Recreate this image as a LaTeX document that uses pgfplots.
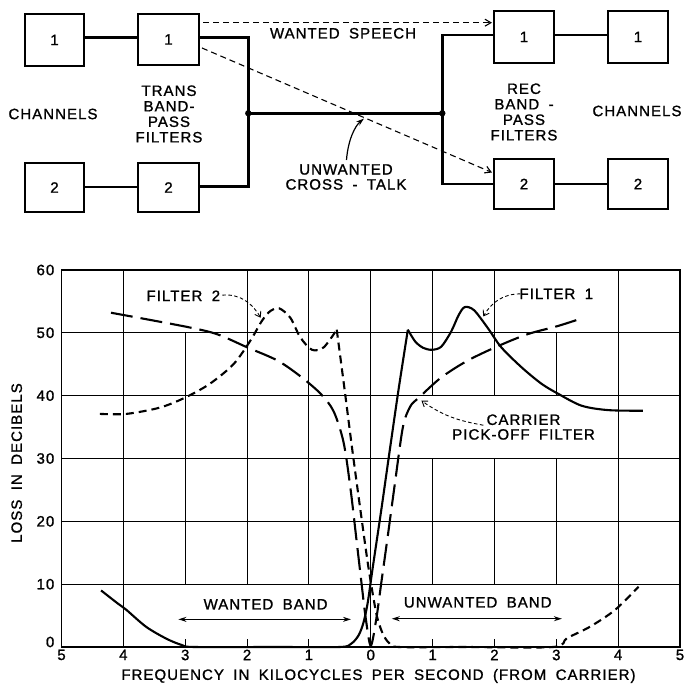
\documentclass[border=0pt]{standalone}
\usepackage{fontspec}
\setmainfont{Liberation Sans}[LetterSpace=7, WordSpace=1.8, FakeBold=1.2]
\usepackage{pgfplots}
\pgfplotsset{compat=1.18}
\usetikzlibrary{arrows.meta}
\begin{document}
\fontsize{15bp}{17bp}\selectfont
\begin{tikzpicture}
\useasboundingbox (0,0) rectangle (684bp,684bp);
% block diagram, picture pixels, y down
\begin{scope}[x=1bp, y=-1bp, yshift=684bp]
  \tikzset{box/.style={line width=1.4bp}, wire/.style={line width=2.5bp},
    talk/.style={line width=1.1bp, dash pattern=on 6bp off 4bp, -{Straight Barb[length=6bp,width=7bp]}}}
  \draw[box] (25,14) rectangle (84,66);   \node at (54.5,40) {1};
  \draw[box] (138,14) rectangle (199,65); \node at (168.5,39.5) {1};
  \draw[box] (25,163) rectangle (84,212); \node at (54.5,187.5) {2};
  \draw[box] (138,163) rectangle (199,212); \node at (168.5,187.5) {2};
  \draw[box] (494,11) rectangle (554,63); \node at (524,37) {1};
  \draw[box] (608,11) rectangle (668,63); \node at (638,37) {1};
  \draw[box] (494,159) rectangle (554,209); \node at (524,184) {2};
  \draw[box] (608,159) rectangle (668,209); \node at (638,184) {2};
  \draw[wire] (84,37.7) -- (138,37.7);
  \draw[wire] (84,187) -- (138,187);
  \draw[wire] (199,37.7) -- (248.3,37.7) -- (248.3,186.5) -- (199,186.5);
  \draw[wire] (248.3,113.3) -- (442.3,113.3);
  \draw[wire] (494,35) -- (442.3,35) -- (442.3,184) -- (494,184);
  \draw[wire] (554,35) -- (608,35);
  \draw[wire] (554,184) -- (608,184);
  \fill (248.3,113.3) circle (3.2bp);
  \fill (442.3,113.3) circle (3.2bp);
  \draw[talk] (203,22.7) -- (492,22.7);
  \draw[talk] (202,48) -- (492,172.5);
  \draw[line width=1.2bp, -{Stealth[length=8bp,width=5bp]}] (346.5,160) .. controls (348,140) and (355,126) .. (364,118.5);
  \node at (53,114) {CHANNELS};
  \node[align=center, font=\fontsize{15bp}{15.5bp}\selectfont] at (169,114) {TRANS\\BAND-\\PASS\\FILTERS};
  \node at (343,33.3) {WANTED SPEECH};
  \node[align=center, font=\fontsize{15bp}{15bp}\selectfont] at (346,177) {UNWANTED\\CROSS - TALK};
  \node[align=center, font=\fontsize{15bp}{15.5bp}\selectfont] at (524,112) {REC\\BAND -\\PASS\\FILTERS};
  \node at (637,111) {CHANNELS};
\end{scope}

\begin{axis}[
  at={(61.5bp,37bp)}, anchor=south west,
  scale only axis, width=618.5bp, height=377bp,
  xmin=-5, xmax=5, ymin=0, ymax=60,
  xtick={-5,-4,-3,-2,-1,0,1,2,3,4,5},
  xticklabels={5,4,3,2,1,0,1,2,3,4,5},
  ytick={10,20,30,40,50,60},
  extra y ticks={0},
  extra y tick style={yticklabel style={yshift=5bp}},
  major tick length=0pt,
  axis line style={line width=1.6bp},
  xticklabel style={yshift=2.5bp},
  yticklabel style={xshift=-2bp},
  /pgf/number format/assume math mode=true,
  xlabel={FREQUENCY IN KILOCYCLES PER SECOND (FROM CARRIER)},
  ylabel={LOSS IN DECIBELS},
  xlabel style={at={(axis description cs:0.5125,0)}, anchor=center, yshift=-29bp},
  ylabel style={at={(axis description cs:-0.0724,0.488)}, anchor=center},
  clip=false,
]
% grid
\tikzset{gl/.style={line width=1.1bp}}
\pgfplotsinvokeforeach{10,20,30,40,50}{\draw[gl] (axis cs:-5,#1) -- (axis cs:5,#1);}
\pgfplotsinvokeforeach{-4,0,4}{\draw[gl] (axis cs:#1,0) -- (axis cs:#1,60);}
\pgfplotsinvokeforeach{-3,-2,-1,1,2,3}{\draw[gl] (axis cs:#1,0) -- (axis cs:#1,1.3);}
\draw[gl] (axis cs:-3,10) -- (axis cs:-3,50);
\pgfplotsinvokeforeach{-2,-1}{\draw[gl] (axis cs:#1,10) -- (axis cs:#1,60);}
\pgfplotsinvokeforeach{1,2,3}{\draw[gl] (axis cs:#1,10) -- (axis cs:#1,30);}
\pgfplotsinvokeforeach{1,2}{\draw[gl] (axis cs:#1,40) -- (axis cs:#1,60);}
\draw[gl] (axis cs:3,40) -- (axis cs:3,50);

% filter 1 (solid)
\addplot[black, line width=2.1bp, smooth, tension=0.5] coordinates {
(-4.36,9.0) (-4.1,7.0) (-3.95,5.9) (-3.63,3.2) (-3.3,1.3) (-3.05,0.3) (-2.85,0)
(-1.5,0) (-0.5,0) (-0.32,0.5) (-0.2,1.8) (-0.12,3.8) (-0.05,7.0) (0.03,12.5)
(0.17,21.8) (0.3,30.8) (0.45,41) (0.6,50.5)};
\addplot[black, line width=2.1bp, smooth, tension=0.5] coordinates {
(0.6,50.5) (0.72,48.6) (0.85,47.6) (0.99,47.3) (1.14,47.8) (1.3,50.2) (1.42,52.8)
(1.52,54.1) (1.67,53.6) (1.89,50.8) (2.11,47.7) (2.44,44.5) (2.76,41.9) (3.03,40.3)
(3.41,38.4) (3.84,37.7) (4.4,37.6)};

% filter 2 (short dashes)
\addplot[black, line width=2.1bp, smooth, tension=0.5, dash pattern=on 8bp off 5bp] coordinates {
(-4.38,37.1) (-3.95,37.1) (-3.41,38.1) (-3.0,39.7) (-2.6,41.9) (-2.22,45.0) (-1.95,48.7)
(-1.76,51.9) (-1.62,53.5) (-1.48,53.9) (-1.3,52.4) (-1.14,49.3) (-0.95,47.3) (-0.76,47.7)
(-0.55,50.5)};
\addplot[black, line width=2.1bp, smooth, tension=0.5, dash pattern=on 8bp off 5bp] coordinates {
(-0.55,50.5) (-0.43,41.5) (-0.3,31.5) (-0.17,22) (-0.05,13.5) (0.04,8) (0.11,4.5)
(0.2,2) (0.3,0.6) (0.45,0) (1.5,0) (2.95,0) (3.17,1.4) (3.54,3.2) (3.95,5.9) (4.33,9.6)};

% carrier pick-off filter (long dashes)
\addplot[black, line width=2.1bp, smooth, tension=0.5, dash pattern=on 22bp off 8bp] coordinates {
(-4.2,53.2) (-3.0,51.0) (-2.49,49.8) (-2.0,47.7) (-1.51,45.6) (-1.14,43.1) (-0.81,40.3)
(-0.6,37.5) (-0.44,32.6) (-0.33,25.4) (-0.23,17) (-0.15,10.2) (-0.08,4.5) (0,0.2)
(0.09,4.5) (0.17,10.2) (0.28,18) (0.39,26) (0.52,35) (0.64,38.3) (0.78,39.7) (1.14,42.9)
(1.57,45.6) (2.06,47.9) (2.54,49.8) (3.03,51.1) (3.44,52.4)};

% annotations
\tikzset{note/.style={line width=0.9bp, dash pattern=on 3.5bp off 2.5bp, -{Straight Barb[length=5bp,width=7bp]}}}
\node at (axis cs:-3.03,55.9) {FILTER 2};
\draw[note] (axis cs:-2.4,56) to[out=5, in=120] (axis cs:-1.78,52.4);
\node at (axis cs:3.0,56.2) {FILTER 1};
\draw[note] (axis cs:2.42,56.2) to[out=180, in=60] (axis cs:1.82,52.6);
\node[align=center, font=\fontsize{15bp}{14.7bp}\selectfont] at (axis cs:2.47,35.0) {CARRIER\\PICK-OFF FILTER};
\draw[note] (axis cs:1.82,35.3) to[out=170, in=-35] (axis cs:0.82,39.2);
\draw[line width=1.1bp, {Stealth[length=8bp,width=5bp]}-{Stealth[length=8bp,width=5bp]}] (axis cs:-3.11,4.4) -- (axis cs:-0.32,4.4);
\node at (axis cs:-1.70,6.8) {WANTED BAND};
\draw[line width=1.1bp, {Stealth[length=8bp,width=5bp]}-{Stealth[length=8bp,width=5bp]}] (axis cs:0.34,4.5) -- (axis cs:3.09,4.5);
\node at (axis cs:1.73,7.1) {UNWANTED BAND};
\end{axis}
\end{tikzpicture}
\end{document}
